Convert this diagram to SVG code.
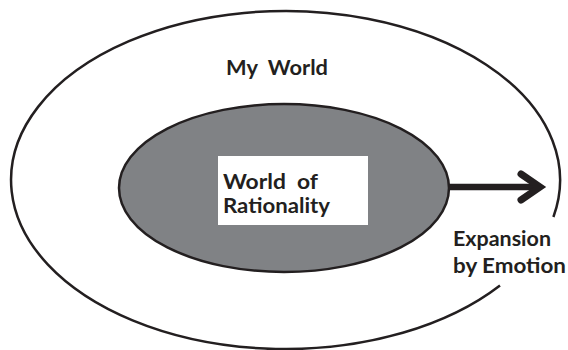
<svg xmlns="http://www.w3.org/2000/svg" width="568" height="350" viewBox="0 0 568 350">
  <style>
    .lbl { font-family: "Lato", "Liberation Sans", sans-serif; font-weight: bold; font-size: 21px; fill: #231f20; }
    .outline { fill: none; stroke: #231f20; stroke-width: 2.5; }
    .conn { stroke: #231f20; stroke-width: 6.5; fill: none; }
  </style>
  <defs>
    <marker id="chev" markerUnits="userSpaceOnUse" orient="auto" refX="0" refY="0" markerWidth="60" markerHeight="60" viewBox="-30 -30 60 60" overflow="visible">
      <path d="M-19,-13 L0,0 L-19,13" fill="none" stroke="#231f20" stroke-width="7" stroke-linecap="round" stroke-linejoin="miter" stroke-miterlimit="10"/>
    </marker>
  </defs>
  <rect width="568" height="350" fill="#ffffff"/>
  <g id="my-world">
    <path class="outline" d="M553.4,217 A274.5,169 0 1 0 500,285.5"/>
    <text class="lbl" x="226" y="75" textLength="102" lengthAdjust="spacingAndGlyphs" xml:space="preserve">My  World</text>
  </g>
  <g id="world-of-rationality">
    <ellipse cx="284" cy="188" rx="165" ry="84" fill="#808285" stroke="#231f20" stroke-width="2.5"/>
    <rect x="218" y="156" width="150" height="69" fill="#ffffff"/>
    <text class="lbl" x="223" y="189" textLength="95" lengthAdjust="spacingAndGlyphs" xml:space="preserve">World  of</text>
    <text class="lbl" x="223" y="213" textLength="107" lengthAdjust="spacingAndGlyphs">Rationality</text>
  </g>
  <g id="connectors">
    <line class="conn" x1="449" y1="187" x2="540" y2="187" marker-end="url(#chev)"/>
  </g>
  <g id="expansion-label">
    <text class="lbl" x="453" y="246" textLength="98" lengthAdjust="spacingAndGlyphs">Expansion</text>
    <text class="lbl" x="453" y="273" textLength="113" lengthAdjust="spacingAndGlyphs">by Emotion</text>
  </g>
</svg>
